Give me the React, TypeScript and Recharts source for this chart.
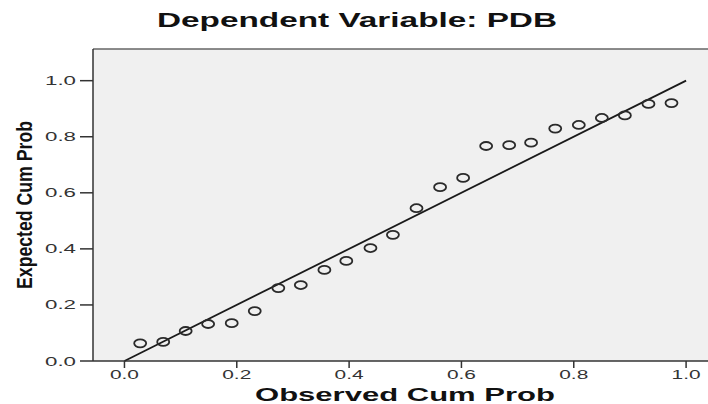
import React from 'react';
import { ScatterChart, Scatter, XAxis, YAxis, CartesianGrid, ReferenceLine } from 'recharts';

const observedCumProb = [0.028, 0.069, 0.109, 0.149, 0.191, 0.232, 0.274, 0.314, 0.356, 0.395, 0.438, 0.478, 0.52, 0.562, 0.603, 0.644, 0.685, 0.724, 0.767, 0.809, 0.85, 0.891, 0.933, 0.974];
const expectedCumProb = [0.063, 0.068, 0.107, 0.132, 0.135, 0.178, 0.26, 0.271, 0.325, 0.357, 0.403, 0.45, 0.545, 0.62, 0.653, 0.767, 0.77, 0.779, 0.829, 0.842, 0.867, 0.876, 0.917, 0.92];
const tickValues = [0, 0.2, 0.4, 0.6, 0.8, 1.0];
const diagonal = [{ x: 0, y: 0 }, { x: 1, y: 1 }];
const chartTitle = 'Dependent Variable: PDB';
const xTitle = 'Observed Cum Prob';
const yTitle = 'Expected Cum Prob';

const points = observedCumProb.map((x, i) => ({ x, y: expectedCumProb[i] }));

const FONT = 'Liberation Sans, Arial, sans-serif';

const XTick = (props: any) => {
  const { x, y, payload } = props;
  return (
    <text x={x} y={y + 9} textAnchor="middle" fontSize={12} fill="#333" fontFamily={FONT}
      textLength={29} lengthAdjust="spacingAndGlyphs">
      {Number(payload.value).toFixed(1)}
    </text>
  );
};

const YTick = (props: any) => {
  const { x, y, payload } = props;
  return (
    <text x={x} y={y + 4.5} textAnchor="end" fontSize={12} fill="#333" fontFamily={FONT}
      textLength={31} lengthAdjust="spacingAndGlyphs">
      {Number(payload.value).toFixed(1)}
    </text>
  );
};

const Ring = (props: any) => {
  const { cx, cy } = props;
  return <ellipse cx={cx} cy={cy} rx={6} ry={4} fill="none" stroke="#2a2a2a" strokeWidth={1.8} />;
};

export default function App() {
  return (
    <div style={{ position: 'absolute', left: 0, top: 0, width: 708, height: 404, background: '#fff' }}>
      <ScatterChart width={708} height={404} margin={{ top: 49, right: 0, bottom: 0, left: 0 }}>
        <CartesianGrid fill="#f0f0f0" horizontal={false} vertical={false} stroke="none" />
        <XAxis
          type="number"
          dataKey="x"
          domain={[-0.056, 1.039]}
          ticks={tickValues}
          allowDataOverflow
          height={43}
          tickSize={7}
          tickMargin={2}
          tick={<XTick />}
          axisLine={{ stroke: '#333', strokeWidth: 1.5 }}
          tickLine={{ stroke: '#333', strokeWidth: 1.5 }}
        />
        <YAxis
          type="number"
          dataKey="y"
          domain={[0, 1.113]}
          ticks={tickValues}
          allowDataOverflow
          width={93}
          tickSize={13}
          tickMargin={4}
          tick={<YTick />}
          axisLine={{ stroke: '#333', strokeWidth: 1.5 }}
          tickLine={{ stroke: '#333', strokeWidth: 1.5 }}
        />
        <ReferenceLine y={1.113} stroke="#666" strokeWidth={1.5} ifOverflow="extendDomain" />
        <ReferenceLine segment={diagonal} stroke="#1a1a1a" strokeWidth={1.8} />
        <Scatter data={points} shape={<Ring />} isAnimationActive={false} />
      </ScatterChart>
      <svg width={708} height={404} style={{ position: 'absolute', left: 0, top: 0, pointerEvents: 'none' }}>
        <text x={357} y={27} textAnchor="middle" fontSize={20} fontWeight="bold" fill="#111" fontFamily={FONT}
          textLength={400} lengthAdjust="spacingAndGlyphs">{chartTitle}</text>
        <text x={405} y={401} textAnchor="middle" fontSize={18} fontWeight="bold" fill="#111" fontFamily={FONT}
          textLength={300} lengthAdjust="spacingAndGlyphs">{xTitle}</text>
        <text x={0} y={0} transform="translate(32,205) rotate(-90)" textAnchor="middle" fontSize={22} fontWeight="bold"
          fill="#111" fontFamily={FONT} textLength={168} lengthAdjust="spacingAndGlyphs">{yTitle}</text>
      </svg>
    </div>
  );
}
